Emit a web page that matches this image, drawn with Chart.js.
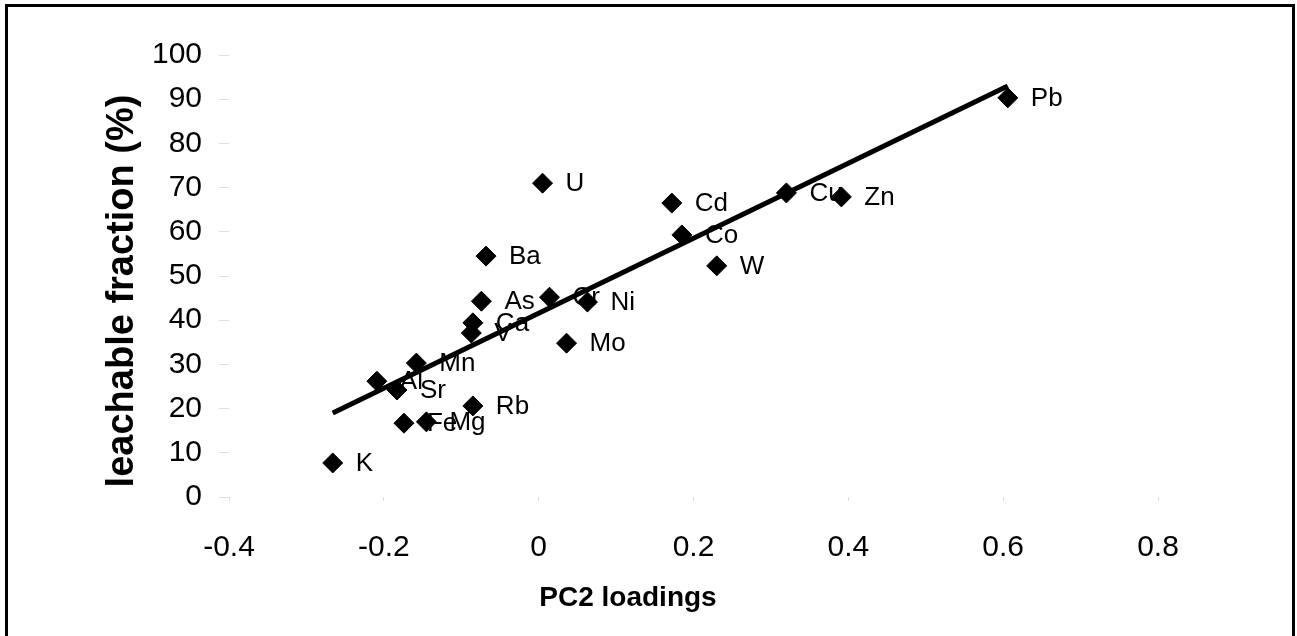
<!DOCTYPE html>
<html>
<head>
<meta charset="utf-8">
<script src="https://cdn.jsdelivr.net/npm/chart.js@4.4.0/dist/chart.umd.min.js"></script>
<style>
    html, body { margin: 0; padding: 0; background: #fff; }
    #contenedor { position: absolute; left: 0; top: 0; width: 1297px; height: 636px; }
    #marco { position: absolute; left: 5px; top: 4px; width: 1290px; height: 650px; border: 3px solid #000; box-sizing: border-box; pointer-events: none; }
</style>
</head>
<body>
<div id="contenedor"><canvas id="chart"></canvas></div>
<div id="marco"></div>
<script>
// datos
const elementos = ["K", "Al", "Sr", "Mn", "Fe", "Mg", "Rb", "V", "Ca", "As", "Ba", "Cr", "Ni", "Mo", "U", "Cd", "Co", "W", "Cu", "Zn", "Pb"]
const cargasPC2 = [-0.266, -0.209, -0.183, -0.158, -0.174, -0.145, -0.085, -0.087, -0.085, -0.074, -0.068, 0.014, 0.063, 0.036, 0.005, 0.172, 0.185, 0.230, 0.320, 0.391, 0.606]
const fraccionLixiviable = [7.7, 26.2, 24.2, 30.3, 16.7, 17.0, 20.6, 37.1, 39.4, 44.3, 54.5, 45.2, 44.1, 34.8, 71.0, 66.5, 59.3, 52.3, 68.8, 67.9, 90.3]

// recta de regresion (extremos)
const rectaX = [-0.266, 0.606]
const rectaY = [19.0, 93.0]

const tituloX = "PC2 loadings"
const tituloY = "leachable fraction (%)"

const puntos = cargasPC2.map((x, i) => ({ x: x, y: fraccionLixiviable[i] }))
const recta = rectaX.map((x, i) => ({ x: x, y: rectaY[i] }))

// etiquetas de cada punto (debajo de los marcadores)
const pluginEtiquetas = {
    id: 'etiquetas',
    beforeDatasetsDraw(chart) {
        const ctx = chart.ctx
        const xs = chart.scales.x
        const ys = chart.scales.y
        ctx.save()
        ctx.font = '26px "Liberation Sans", Arial, sans-serif'
        ctx.fillStyle = '#000'
        ctx.textBaseline = 'middle'
        ctx.textAlign = 'left'
        elementos.forEach((el, i) => {
            ctx.fillText(el, xs.getPixelForValue(cargasPC2[i]) + 23, ys.getPixelForValue(fraccionLixiviable[i]) + 1)
        })
        ctx.restore()
    },
    afterDraw(chart) {
        const ctx = chart.ctx
        ctx.save()
        ctx.fillStyle = '#000'
        ctx.textAlign = 'center'
        ctx.textBaseline = 'middle'
        ctx.font = 'bold 28px "Liberation Sans", Arial, sans-serif'
        ctx.fillText(tituloX, 628, 598)
        ctx.font = 'bold 38px "Liberation Sans", Arial, sans-serif'
        ctx.translate(123, 291)
        ctx.rotate(-Math.PI / 2)
        ctx.fillText(tituloY, 0, 0)
        ctx.restore()
    }
}

const grafico = document.getElementById('chart').getContext('2d')
new Chart(grafico, {
    type: 'scatter',
    data: {
        datasets: [{
            label: 'elementos',
            data: puntos,
            pointStyle: 'rectRot',
            pointRadius: 10,
            pointBackgroundColor: '#000',
            pointBorderColor: '#000',
            pointBorderWidth: 1,
        }, {
            label: 'regresion',
            type: 'line',
            data: recta,
            borderColor: '#000',
            borderWidth: 5,
            pointRadius: 0,
            fill: false,
        }],
    },
    options: {
        responsive: true,
        maintainAspectRatio: false,
        animation: false,
        layout: {
            padding: { left: 0, top: 55, right: 139, bottom: 0 },
        },
        plugins: {
            legend: { display: false },
            tooltip: { enabled: false },
        },
        scales: {
            x: {
                type: 'linear',
                min: -0.4,
                max: 0.8,
                border: { display: false },
                grid: { drawOnChartArea: false, drawTicks: true, tickLength: 4, color: '#dddddd' },
                ticks: {
                    stepSize: 0.2,
                    padding: 29,
                    color: '#000',
                    font: { family: '"Liberation Sans", Arial, sans-serif', size: 30 },
                    callback: (v) => Math.round(v * 10) / 10,
                },
                afterFit: (escala) => { escala.height = 139 },
            },
            y: {
                min: 0,
                max: 100,
                border: { display: false },
                grid: { drawOnChartArea: false, drawTicks: true, tickLength: 10, color: '#dddddd' },
                ticks: {
                    stepSize: 10,
                    padding: 17,
                    color: '#000',
                    font: { family: '"Liberation Sans", Arial, sans-serif', size: 30 },
                },
                afterFit: (escala) => { escala.width = 229 },
            },
        },
    },
    plugins: [pluginEtiquetas],
});
</script>
</body>
</html>
